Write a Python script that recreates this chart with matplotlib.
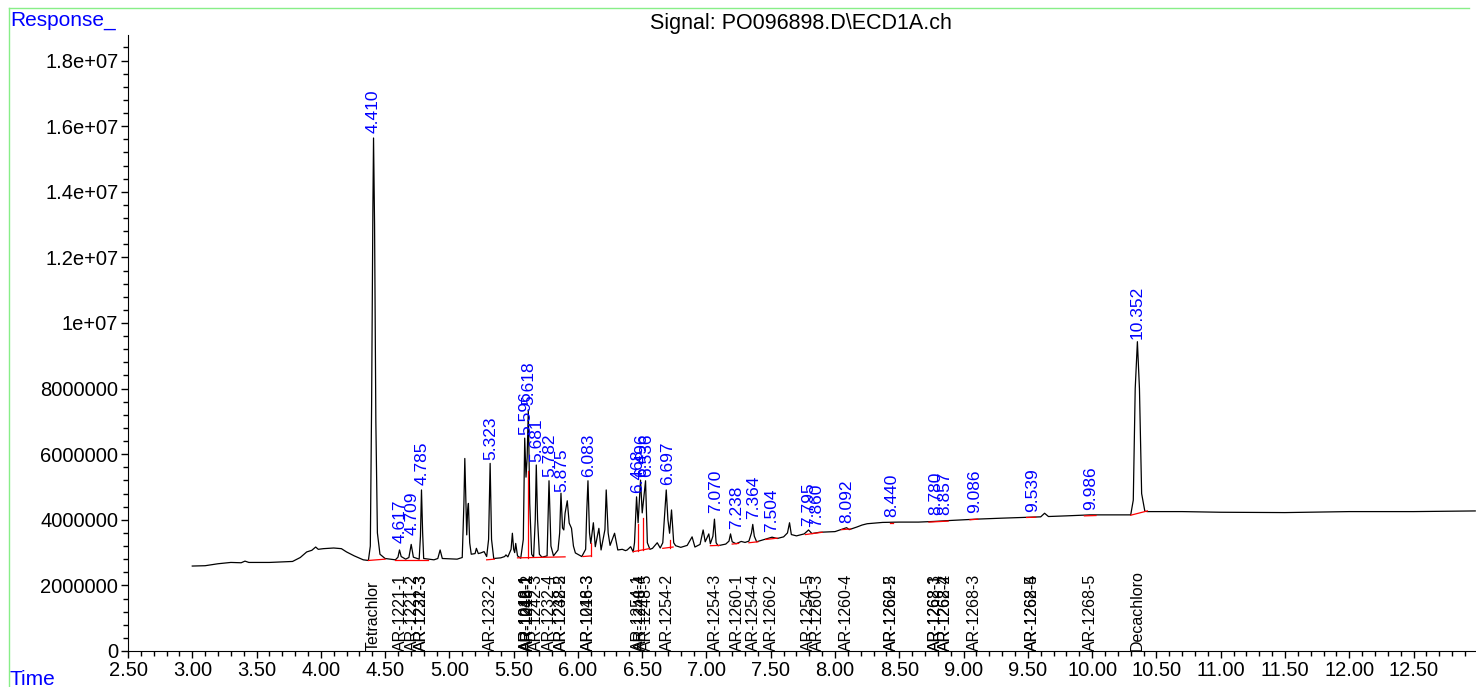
import matplotlib as mpl
import matplotlib.pyplot as plt
import numpy as np
from matplotlib.ticker import MultipleLocator, FixedLocator, FixedFormatter, FormatStrFormatter
from matplotlib.lines import Line2D

mpl.rcParams['font.family'] = ['Liberation Sans', 'DejaVu Sans']

title = "Signal: PO096898.D\\ECD1A.ch"

# chromatogram trace (time in min, response in millions)
trace_time = [3.00, 3.10, 3.20, 3.30, 3.38, 3.41, 3.44, 3.60, 3.78, 3.84, 3.89, 3.93, 3.96, 3.98,
              4.02, 4.10, 4.16, 4.20, 4.26, 4.33, 4.37, 4.385, 4.395, 4.405, 4.41, 4.418, 4.428,
              4.44, 4.46, 4.50, 4.58, 4.60, 4.612, 4.625, 4.66, 4.685, 4.703, 4.72, 4.765, 4.775,
              4.783, 4.792, 4.80, 4.88, 4.91, 4.928, 4.945, 5.06, 5.10, 5.113, 5.12, 5.128, 5.135,
              5.142, 5.148, 5.158, 5.17, 5.20, 5.21, 5.225, 5.244, 5.27, 5.29, 5.305, 5.317, 5.328,
              5.345, 5.40, 5.43, 5.44, 5.455, 5.48, 5.49, 5.50, 5.508, 5.516, 5.53, 5.555, 5.575,
              5.586, 5.596, 5.605, 5.614, 5.625, 5.64, 5.655, 5.668, 5.676, 5.686, 5.70, 5.72,
              5.76, 5.775, 5.79, 5.81, 5.845, 5.858, 5.868, 5.88, 5.89, 5.90, 5.917, 5.932, 5.95,
              5.965, 5.98, 6.03, 6.06, 6.068, 6.078, 6.09, 6.10, 6.12, 6.135, 6.163, 6.18, 6.21,
              6.22, 6.235, 6.25, 6.285, 6.31, 6.345, 6.37, 6.383, 6.41, 6.43, 6.44, 6.456, 6.468,
              6.487, 6.50, 6.526, 6.54, 6.56, 6.58, 6.617, 6.64, 6.66, 6.687, 6.70, 6.713, 6.728,
              6.745, 6.76, 6.80, 6.85, 6.888, 6.91, 6.95, 6.974, 6.99, 7.018, 7.03, 7.05, 7.062,
              7.075, 7.09, 7.15, 7.175, 7.187, 7.20, 7.23, 7.27, 7.30, 7.33, 7.35, 7.36, 7.372,
              7.39, 7.45, 7.51, 7.55, 7.60, 7.63, 7.646, 7.66, 7.70, 7.76, 7.794, 7.82, 7.88,
              8.00, 8.06, 8.09, 8.11, 8.17, 8.21, 8.25, 8.37, 8.50, 8.65, 8.77, 8.90, 9.10, 9.30,
              9.54, 9.60, 9.63, 9.66, 9.80, 9.985, 10.15, 10.30, 10.32, 10.335, 10.352, 10.368,
              10.385, 10.41, 10.43, 10.70, 11.00, 11.50, 12.00, 12.50, 12.98]
trace_resp = [2.59, 2.60, 2.66, 2.70, 2.69, 2.74, 2.70, 2.70, 2.73, 2.85, 3.02, 3.07, 3.17, 3.10,
              3.12, 3.14, 3.12, 3.02, 2.90, 2.78, 2.76, 3.2, 7.5, 13.5, 15.64, 13.0, 7.0,
              3.6, 2.95, 2.82, 2.78, 2.86, 3.08, 2.88, 2.80, 2.85, 3.25, 2.86, 2.80, 3.5,
              4.91, 3.6, 2.82, 2.78, 2.82, 3.08, 2.82, 2.80, 2.85, 4.5, 5.87, 4.6, 3.54,
              4.3, 4.50, 3.3, 2.95, 2.97, 3.13, 2.97, 2.99, 3.03, 2.88, 3.4, 5.72, 3.4,
              2.82, 2.84, 2.88, 2.93, 2.87, 3.10, 3.59, 3.10, 3.00, 3.28, 2.90, 2.83, 3.4,
              6.49, 5.3, 5.9, 7.35, 4.5, 2.95, 2.86, 4.0, 5.67, 4.0, 2.95, 2.86,
              2.90, 5.19, 3.2, 2.90, 3.08, 3.6, 4.81, 3.75, 3.69, 4.2, 4.58, 3.90, 3.74,
              3.2, 2.99, 2.88, 3.1, 4.2, 5.19, 3.6, 3.28, 3.91, 3.18, 3.74, 3.08, 3.7,
              4.91, 3.6, 3.22, 3.59, 3.08, 3.10, 3.06, 3.08, 3.18, 3.02, 3.3, 4.70, 3.91,
              5.21, 4.21, 5.19, 3.3, 3.1, 3.13, 3.30, 3.14, 3.3, 4.91, 4.0, 3.59, 4.30,
              3.3, 3.21, 3.16, 3.22, 3.48, 3.17, 3.25, 3.69, 3.33, 3.57, 3.27, 3.5, 4.02,
              3.3, 3.21, 3.26, 3.35, 3.57, 3.33, 3.27, 3.34, 3.31, 3.35, 3.6, 3.86, 3.5,
              3.33, 3.40, 3.47, 3.43, 3.48, 3.6, 3.91, 3.55, 3.51, 3.57, 3.69, 3.58, 3.62,
              3.64, 3.72, 3.76, 3.70, 3.78, 3.84, 3.88, 3.92, 3.93, 3.93, 3.95, 3.98, 4.02, 4.05,
              4.08, 4.09, 4.20, 4.10, 4.12, 4.15, 4.15, 4.15, 4.6, 8.0, 9.43, 8.0,
              4.8, 4.26, 4.25, 4.25, 4.23, 4.22, 4.25, 4.25, 4.27]

# integration baselines (red), start/end time and response in millions
base_t0 = [4.37, 4.58, 5.29, 5.53, 5.609, 6.04, 6.105, 6.43, 6.468, 6.505, 6.66, 6.72, 7.03, 7.20,
           7.33, 7.46, 7.77, 8.05, 8.43, 8.73, 9.05, 9.49, 9.94, 10.30]
base_t1 = [4.50, 4.83, 5.35, 5.90, 5.609, 6.105, 6.105, 6.555, 6.468, 6.505, 6.74, 6.72, 7.10, 7.25,
           7.40, 7.55, 7.90, 8.12, 8.45, 8.88, 9.11, 9.56, 10.03, 10.43]
base_r0 = [2.76, 2.77, 2.78, 2.84, 2.85, 2.88, 2.90, 3.03, 3.04, 3.07, 3.13, 3.15, 3.21, 3.26,
           3.30, 3.40, 3.55, 3.70, 3.90, 3.93, 4.00, 4.07, 4.12, 4.14]
base_r1 = [2.80, 2.77, 2.80, 2.87, 5.50, 2.90, 3.30, 3.12, 3.87, 4.05, 3.17, 3.38, 3.22, 3.28,
           3.33, 3.44, 3.62, 3.72, 3.90, 3.96, 4.02, 4.08, 4.13, 4.27]

# retention time labels (blue) and the height of their foot
peak_rt = ["4.410", "4.617", "4.709", "4.785", "5.323", "5.596", "5.618", "5.681", "5.782", "5.875",
           "6.083", "6.468", "6.496", "6.536", "6.697", "7.070", "7.238", "7.364", "7.504", "7.795",
           "7.860", "8.092", "8.440", "8.780", "8.857", "9.086", "9.539", "9.986", "10.352"]
peak_label_resp = [15.79, 3.28, 3.54, 5.06, 5.82, 6.59, 7.50, 5.77, 5.31, 4.86,
                   5.31, 4.81, 5.31, 5.31, 5.06, 4.20, 3.71, 4.02, 3.64, 3.81,
                   3.79, 3.89, 4.08, 4.15, 4.15, 4.20, 4.25, 4.30, 9.50]

# compound names along the time axis
compound_rt = [4.410, 4.617, 4.709, 4.785, 4.785, 5.323, 5.596, 5.596, 5.618, 5.618, 5.681, 5.782,
               5.875, 5.875, 6.083, 6.083, 6.468, 6.496, 6.536, 6.697, 7.070, 7.238, 7.364, 7.504,
               7.795, 7.860, 8.092, 8.440, 8.440, 8.780, 8.780, 8.857, 8.857, 9.086, 9.539, 9.539,
               9.986, 10.352]
compound_names = ["Tetrachlor", "AR-1221-1", "AR-1221-2", "AR-1221-3", "AR-1232-3", "AR-1232-2",
                  "AR-1016-1", "AR-1242-1", "AR-1248-1", "AR-1016-2", "AR-1242-3", "AR-1232-4",
                  "AR-1248-2", "AR-1232-5", "AR-1016-3", "AR-1248-3", "AR-1254-1", "AR-1248-4",
                  "AR-1248-5", "AR-1254-2", "AR-1254-3", "AR-1260-1", "AR-1254-4", "AR-1260-2",
                  "AR-1254-5", "AR-1260-3", "AR-1260-4", "AR-1260-5", "AR-1262-2", "AR-1268-1",
                  "AR-1262-3", "AR-1268-2", "AR-1262-4", "AR-1268-3", "AR-1268-4", "AR-1262-5",
                  "AR-1268-5", "Decachloro"]

ytick_values = [0, 2e6, 4e6, 6e6, 8e6, 1e7, 1.2e7, 1.4e7, 1.6e7, 1.8e7]
ytick_labels = ["0", "2000000", "4000000", "6000000", "8000000", "1e+07", "1.2e+07", "1.4e+07",
                "1.6e+07", "1.8e+07"]

W, H = 1476, 687
fig = plt.figure(figsize=(W / 100, H / 100), dpi=100)
fig.set_facecolor("white")
ax = fig.add_axes([128 / W, 1 - 651 / H, (W - 128) / W, (651 - 35) / H])

ax.plot(trace_time, np.array(trace_resp) * 1e6, color="black", lw=0.9)
for t0, t1, r0, r1 in zip(base_t0, base_t1, base_r0, base_r1):
    ax.plot([t0, t1], [r0 * 1e6, r1 * 1e6], color="red", lw=0.9)

for lab, r in zip(peak_rt, peak_label_resp):
    ax.text(float(lab), r * 1e6, lab, rotation=90, ha="center", va="bottom",
            color="#0000ff", fontsize=12.5)

for t, name in zip(compound_rt, compound_names):
    ax.text(t, 0, name, rotation=90, ha="center", va="bottom", color="black", fontsize=11.5)

ax.set_xlim(2.5, 12.986)
ax.set_ylim(0, 1.878e7)
ax.xaxis.set_major_locator(MultipleLocator(0.5))
ax.xaxis.set_minor_locator(MultipleLocator(0.1))
ax.xaxis.set_major_formatter(FormatStrFormatter("%.2f"))
ax.yaxis.set_major_locator(FixedLocator(ytick_values))
ax.yaxis.set_major_formatter(FixedFormatter(ytick_labels))
ax.yaxis.set_minor_locator(MultipleLocator(4e5))
ax.tick_params(which="major", direction="out", length=5, width=1, labelsize=14.5, pad=2)
ax.tick_params(which="minor", direction="out", length=3.5, width=1)
ax.spines["top"].set_visible(False)
ax.spines["right"].set_visible(False)

fig.text(801 / W, 1 - 24 / H, title, ha="center", va="center", fontsize=15.5)
fig.text(10 / W, 1 - 20 / H, "Response_", ha="left", va="center", fontsize=15, color="#0000ff")
fig.text(10 / W, 1 - 670 / H, "Time", ha="left", va="top", fontsize=15, color="#0000ff")

# light green frame
fig.add_artist(Line2D([9 / W, 9 / W], [0, 1 - 8 / H], color="#88ee88", lw=1))
fig.add_artist(Line2D([9 / W, 1469 / W], [1 - 8 / H, 1 - 8 / H], color="#88ee88", lw=1))

fig.savefig("out.png", dpi=100)
